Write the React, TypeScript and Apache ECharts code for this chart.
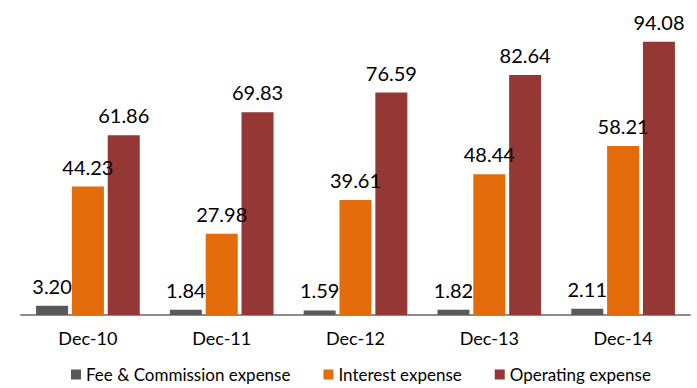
import React, { useEffect, useRef } from "react";
import * as echarts from "echarts";

const categories = ["Dec-10", "Dec-11", "Dec-12", "Dec-13", "Dec-14"];
const feeCommission = [3.2, 1.84, 1.59, 1.82, 2.11];
const interestExpense = [44.23, 27.98, 39.61, 48.44, 58.21];
const operatingExpense = [61.86, 69.83, 76.59, 82.64, 94.08];
const seriesNames = ["Fee & Commission expense", "Interest expense", "Operating expense"];
const colors = ["#595959", "#E46C0A", "#953735"];

const FONT = "Lato, 'Open Sans', sans-serif";

export default function App() {
  const ref = useRef<HTMLDivElement>(null);
  useEffect(() => {
    if (!ref.current) return;
    const chart = echarts.init(ref.current, undefined, { renderer: "svg" });
    const label = {
      show: true,
      position: "top" as const,
      distance: 10,
      color: "#000",
      fontFamily: FONT,
      fontSize: 20,
      formatter: (p: any) => p.value.toFixed(2),
    };
    const datas = [feeCommission, interestExpense, operatingExpense];
    chart.setOption({
      animation: false,
      color: colors,
      grid: { left: 21, right: 7, top: 24.6, bottom: 73, containLabel: false },
      xAxis: {
        type: "category",
        data: categories,
        axisLine: { lineStyle: { color: "#8c8c8c", width: 2 } },
        axisTick: { show: false },
        axisLabel: { color: "#000", fontFamily: FONT, fontSize: 18, margin: 14 },
      },
      yAxis: {
        type: "value",
        min: 0,
        max: 100,
        show: false,
        splitLine: { show: false },
      },
      legend: {
        bottom: 0,
        left: 66,
        itemWidth: 10,
        itemHeight: 10,
        itemGap: 33,
        icon: "rect",
        textStyle: { color: "#000", fontFamily: FONT, fontSize: 17 },
        data: seriesNames,
      },
      series: datas.map((d, i) => ({
        name: seriesNames[i],
        type: "bar",
        data: d,
        barWidth: 32,
        barGap: "12%",
        itemStyle: { color: colors[i] },
        label,
      })),
    });
    return () => chart.dispose();
  }, []);
  return <div ref={ref} style={{ width: 697, height: 388, position: "absolute", left: 0, top: 0 }} />;
}
